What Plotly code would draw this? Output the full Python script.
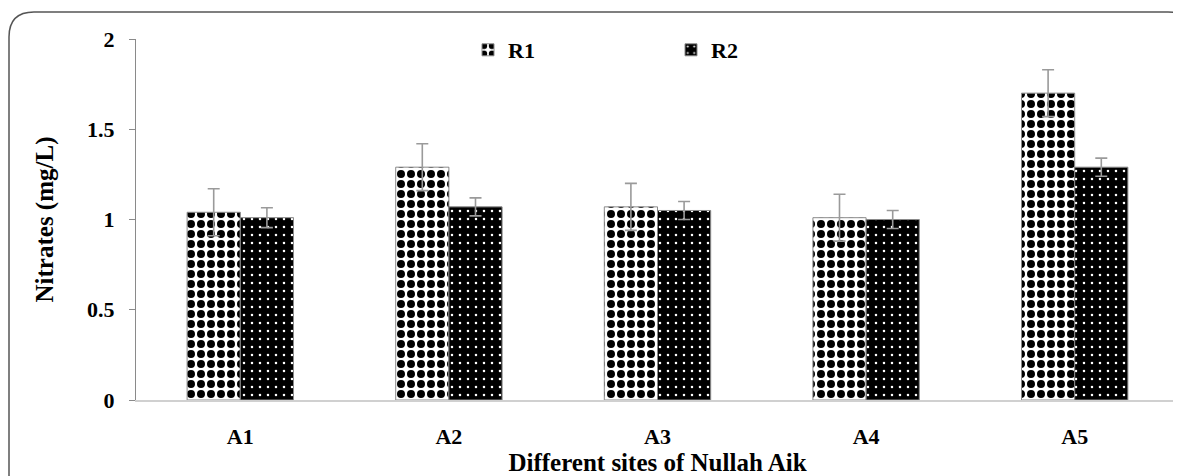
import plotly.graph_objects as go

# ---- data ----
sites = ["A1", "A2", "A3", "A4", "A5"]
r1_values = [1.04, 1.29, 1.07, 1.01, 1.70]
r1_errors = [0.13, 0.13, 0.13, 0.13, 0.13]
r2_values = [1.01, 1.07, 1.05, 1.00, 1.29]
r2_errors = [0.055, 0.05, 0.05, 0.05, 0.05]
y_ticks = [0, 0.5, 1, 1.5, 2]
y_tick_labels = ["0", "0.5", "1", "1.5", "2"]

# page body has an 8px margin, so the figure is drawn 8px right/down
OFF = 8
W, H = 1181 - OFF, 476 - OFF
ML, MR, MT, MB = 136 - OFF, 2, 39 - OFF, 76
PW, PH = W - ML - MR, H - MT - MB

def px(x):  # screen pixel -> paper
    return (x - OFF - ML) / PW

def py(y):
    return (H - MB - (y - OFF)) / PH

FONT = "Liberation Serif"

fig = go.Figure()
fig.add_trace(go.Bar(
    name="R1", x=sites, y=r1_values,
    error_y=dict(type="data", array=r1_errors, color="#9a9a9a", thickness=1.6, width=6),
    marker=dict(color="white",
                line=dict(color="#8a8a8a", width=1),
                pattern=dict(shape=".", fgcolor="black", bgcolor="white",
                             size=10, solidity=0.5, fillmode="replace")),
))
fig.add_trace(go.Bar(
    name="R2", x=sites, y=r2_values,
    error_y=dict(type="data", array=r2_errors, color="#9a9a9a", thickness=1.6, width=6),
    marker=dict(color="black",
                line=dict(color="#8a8a8a", width=1),
                pattern=dict(shape=".", fgcolor="white", bgcolor="black",
                             size=8, solidity=0.08, fillmode="replace")),
))

# rounded frame around the chart
x0, x1 = px(9), px(1193)
yt, yb = py(12), py(540)
rx, ry = 25 / PW, 25 / PH
path = (f"M {x0},{yb} L {x0},{yt - ry} Q {x0},{yt} {x0 + rx},{yt} "
        f"L {x1 - rx},{yt} Q {x1},{yt} {x1},{yt - ry} L {x1},{yb}")

fig.update_layout(
    width=W, height=H,
    margin=dict(l=ML, r=MR, t=MT, b=MB, autoexpand=False),
    paper_bgcolor="white", plot_bgcolor="white",
    barmode="group", bargap=0.49, bargroupgap=0,
    font=dict(family=FONT, color="black"),
    showlegend=True,
    legend=dict(orientation="h", x=px(468), y=py(50), xanchor="left", yanchor="middle",
                font=dict(family=FONT, size=22, color="black", weight="bold"),
                entrywidth=158, itemwidth=30, bgcolor="rgba(0,0,0,0)"),
    shapes=[dict(type="path", xref="paper", yref="paper", path=path,
                 line=dict(color="#555555", width=1.5), layer="above")],
    xaxis=dict(showline=True, linecolor="#d0d0d0", linewidth=1.5, ticks="",
               showgrid=False, zeroline=False, automargin=False,
               tickfont=dict(family=FONT, size=22, color="black", weight="bold"),
               ticklabelstandoff=16,
               title=dict(text="Different sites of Nullah Aik", standoff=10,
                          font=dict(family=FONT, size=25, color="black", weight="bold"))),
    yaxis=dict(range=[0, 2], tickvals=y_ticks, ticktext=y_tick_labels,
               showline=True, linecolor="#8a8a8a", linewidth=1.2,
               ticks="outside", ticklen=6, tickcolor="#8a8a8a",
               showgrid=False, zeroline=False, automargin=False,
               tickfont=dict(family=FONT, size=22, color="black", weight="bold"),
               ticklabelstandoff=10,
               title=dict(text="Nitrates (mg/L)", standoff=26,
                          font=dict(family=FONT, size=25, color="black", weight="bold"))),
)

fig.write_html("out.html")
